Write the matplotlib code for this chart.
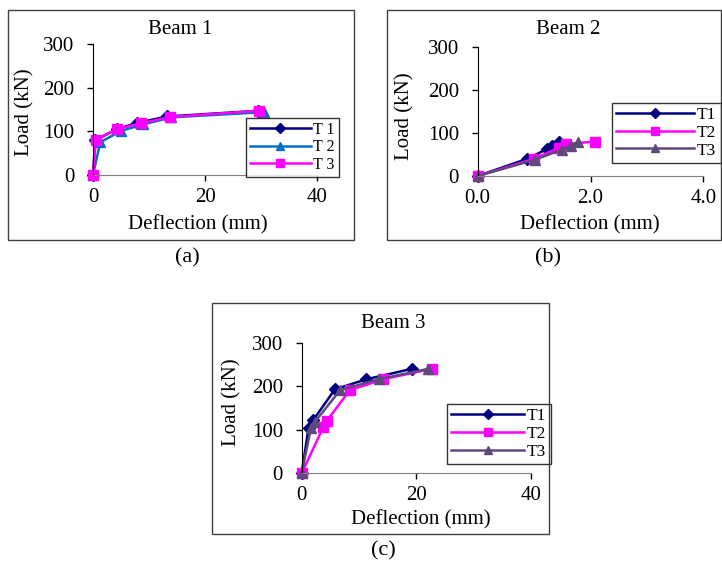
import matplotlib
matplotlib.use('Agg')
import matplotlib.pyplot as plt
from matplotlib.patches import Rectangle

plt.rcParams['font.family'] = 'Liberation Serif'
plt.rcParams['font.size'] = 15

# Beam 1
b1_t1_x = [0, 0.4, 4.3, 7.8, 13.2, 29.5]
b1_t1_y = [0, 80, 105, 119, 134, 147]
b1_t2_x = [0, 1.3, 5.0, 9.0, 14.0, 30.5]
b1_t2_y = [0, 75, 101, 116, 132, 144]
b1_t3_x = [0, 0.5, 4.2, 8.5, 13.8, 29.6]
b1_t3_y = [0, 80, 105, 118, 133, 147]

# Beam 2
b2_t1_x = [0, 0.88, 1.22, 1.32, 1.45]
b2_t1_y = [0, 40, 62, 70, 80]
b2_t2_x = [0, 1.0, 1.45, 1.57, 2.08]
b2_t2_y = [0, 40, 66, 74, 80]
b2_t3_x = [0, 1.02, 1.49, 1.65, 1.78]
b2_t3_y = [0, 38, 61, 70, 80]

# Beam 3
b3_t1_x = [0, 1.2, 2.0, 5.8, 11.3, 19.2]
b3_t1_y = [0, 105, 122, 193, 216, 240]
b3_t2_x = [0, 3.8, 4.4, 8.4, 14.2, 22.7]
b3_t2_y = [0, 107, 121, 191, 216, 240]
b3_t3_x = [0, 1.6, 2.3, 6.7, 13.4, 22.1]
b3_t3_y = [0, 103, 118, 191, 216, 240]

navy = '#000080'
blue = '#0070C0'
pink = '#FF00FF'
purple = '#604A7B'

W, H = 722, 565
fig = plt.figure(figsize=(W / 100, H / 100), dpi=100)


def fx(px):
    return px / W


def fy(py):
    return 1 - py / H


def make_axes(left, top, right, bottom):
    ax = fig.add_axes([fx(left), fy(bottom), fx(right) - fx(left), fy(top) - fy(bottom)])
    ax.spines['top'].set_visible(False)
    ax.spines['right'].set_visible(False)
    ax.spines['left'].set_color('black')
    ax.spines['bottom'].set_color('#808080')
    ax.tick_params(direction='out', length=4.5, width=1, labelsize=15)
    ax.tick_params(axis='x', pad=5)
    ax.tick_params(axis='y', pad=9)
    ax.set_ylim(0, 300)
    ax.set_yticks([0, 100, 200, 300])
    ax.patch.set_alpha(0)
    return ax


def style_legend(ax, labels, x0, y0, fs, hl):
    leg = ax.legend(labels, loc='upper left', bbox_to_anchor=(fx(x0), fy(y0)),
                    bbox_transform=fig.transFigure, fancybox=False, frameon=True,
                    fontsize=fs, handlelength=hl, borderpad=0.25, markerscale=0.8,
                    labelspacing=0.08, handletextpad=0.15, borderaxespad=0)
    leg.get_frame().set_edgecolor('black')
    leg.get_frame().set_linewidth(1)
    return leg


def texts(title, tpos, xpos, ypos):
    fig.text(fx(tpos[0]), fy(tpos[1]), title, ha='center', va='center', fontsize=15)
    fig.text(fx(xpos[0]), fy(xpos[1]), 'Deflection (mm)', ha='center', va='center', fontsize=15)
    fig.text(fx(ypos[0]), fy(ypos[1]), 'Load (kN)', ha='center', va='center',
             rotation=90, fontsize=15)


lw = 1.8
mk = dict(clip_on=False, lw=lw)

# (a)
ax1 = make_axes(93, 44, 317, 175)
ax1.plot(b1_t1_x, b1_t1_y, color=navy, marker='D', ms=6, **mk)
ax1.plot(b1_t2_x, b1_t2_y, color=blue, marker='^', ms=7, **mk)
ax1.plot(b1_t3_x, b1_t3_y, color=pink, marker='s', ms=7, **mk)
ax1.set_xlim(0, 40)
ax1.set_xticks([0, 20, 40])
texts('Beam 1', (180, 30), (198, 225), (25, 112))
style_legend(ax1, ['T 1', 'T 2', 'T 3'], 246, 118, 11.5, 3.8)

# (b)
ax2 = make_axes(477.7, 46.7, 703.3, 176)
ax2.plot(b2_t1_x, b2_t1_y, color=navy, marker='D', ms=6, **mk)
ax2.plot(b2_t2_x, b2_t2_y, color=pink, marker='s', ms=7, **mk)
ax2.plot(b2_t3_x, b2_t3_y, color=purple, marker='^', ms=7, **mk)
ax2.set_xlim(0, 4)
ax2.set_xticks([0, 2, 4])
ax2.set_xticklabels(['0.0', '2.0', '4.0'])
texts('Beam 2', (568, 29), (590, 225), (405, 116))
style_legend(ax2, ['T1', 'T2', 'T3'], 612, 103, 12.5, 4.5)

# (c)
ax3 = make_axes(301.7, 342.7, 531, 473.3)
ax3.plot(b3_t1_x, b3_t1_y, color=navy, marker='D', ms=6, **mk)
ax3.plot(b3_t2_x, b3_t2_y, color=pink, marker='s', ms=7, **mk)
ax3.plot(b3_t3_x, b3_t3_y, color=purple, marker='^', ms=7, **mk)
ax3.set_xlim(0, 40)
ax3.set_xticks([0, 20, 40])
texts('Beam 3', (393, 324), (421, 520), (232, 402))
style_legend(ax3, ['T1', 'T2', 'T3'], 447, 404, 12.5, 4.2)

# panel frames
for (x0, y0, x1, y1) in [(8, 10, 354, 240), (387, 10, 721, 240), (212, 303, 549, 534)]:
    fig.patches.append(Rectangle((fx(x0), fy(y1)), fx(x1) - fx(x0), fy(y0) - fy(y1),
                                 transform=fig.transFigure, fill=False,
                                 edgecolor='#404040', lw=1))

# panel captions
fig.text(fx(187), fy(258), '(a)', ha='center', va='center', fontsize=16)
fig.text(fx(548), fy(258), '(b)', ha='center', va='center', fontsize=16)
fig.text(fx(383), fy(551), '(c)', ha='center', va='center', fontsize=16)

fig.savefig('out.png', dpi=100)
